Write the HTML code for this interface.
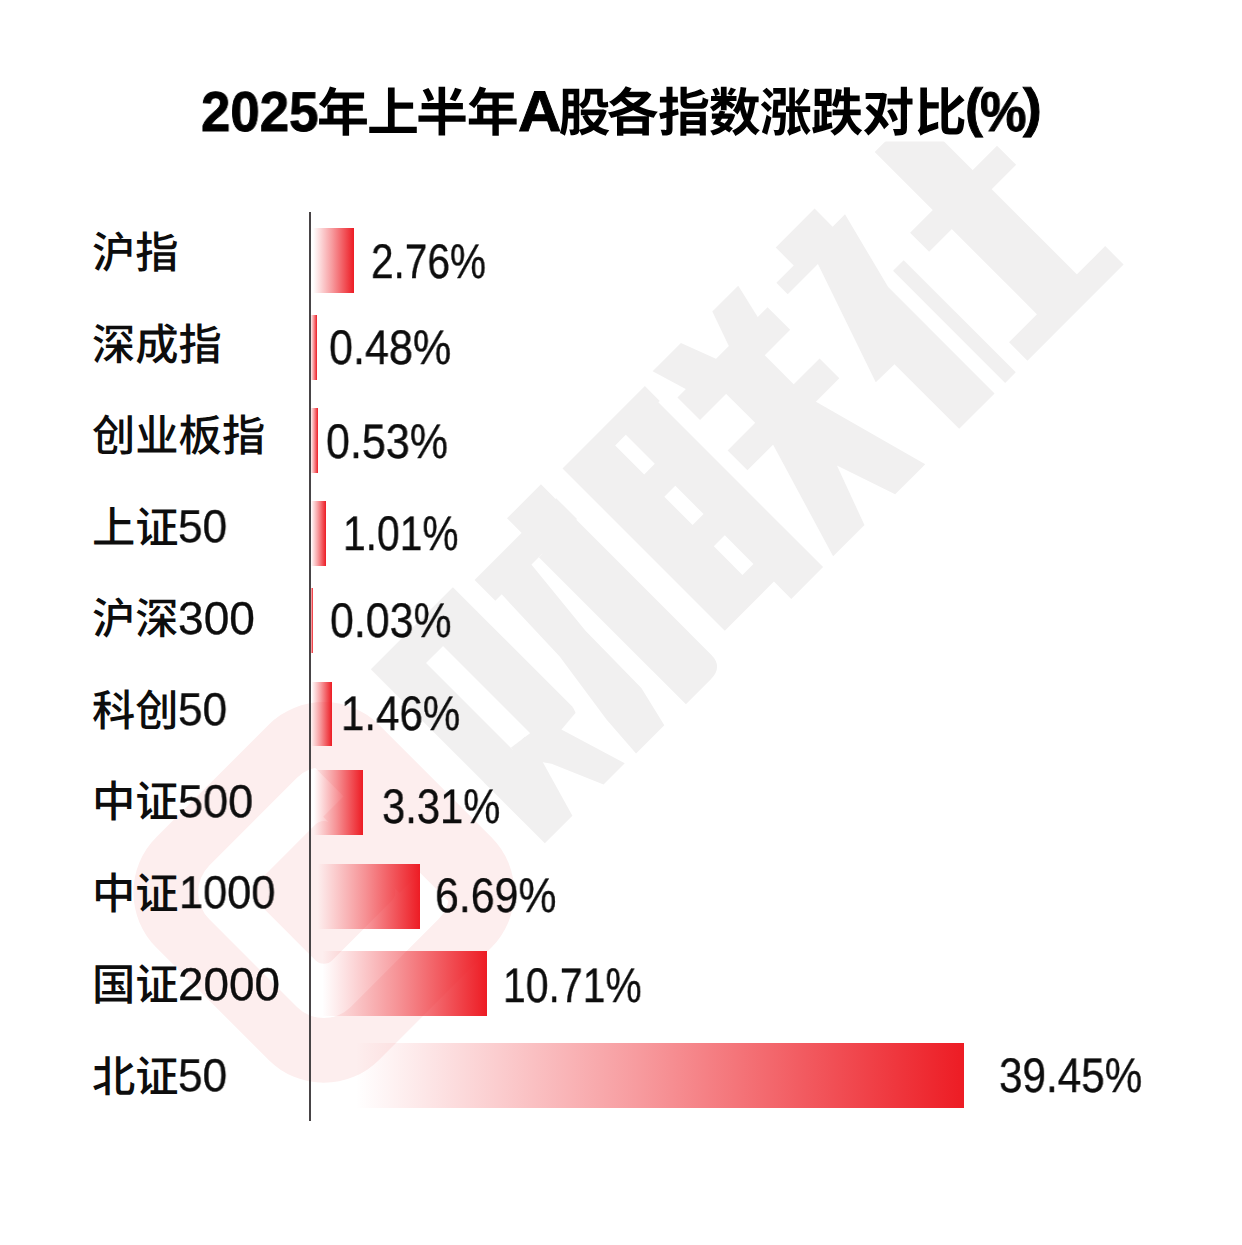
<!DOCTYPE html>
<html lang="zh"><head><meta charset="utf-8"><title>2025年上半年A股各指数涨跌对比(%)</title>
<style>
html,body{margin:0;padding:0;background:#fff}
body{width:1242px;height:1245px;position:relative;overflow:hidden;font-family:"Liberation Sans",sans-serif;color:#0d0d0d;font-kerning:none;text-rendering:geometricPrecision}
.cj{position:absolute;display:block;overflow:visible}
.cj text{font-family:"Liberation Sans","Noto Sans CJK SC",sans-serif}
.dg,.val,.tl{position:absolute;white-space:nowrap;line-height:1;transform-origin:0 0;will-change:transform}
.dg,.val{-webkit-text-stroke:0.35px #0d0d0d}
.tl{font-weight:bold;color:#000;-webkit-text-stroke:0.9px #000}
.bar{position:absolute;background:linear-gradient(90deg,rgba(237,28,36,0) 0%,rgba(237,28,36,0) 7%,rgba(237,28,36,.44) 50%,rgba(237,28,36,1) 100%)}
.axis{position:absolute;left:309.3px;top:212px;width:1.5px;height:908.5px;background:#484446}
</style></head><body>
<svg class="wm" width="1242" height="1245" viewBox="0 0 1242 1245" style="position:absolute;left:0;top:0" aria-hidden="true"><defs><clipPath id="wmclip"><rect x="0" y="141.5" width="1242" height="1104"/></clipPath></defs><g clip-path="url(#wmclip)"><g transform="matrix(0.70711,-0.70711,0.70711,0.70711,0,0)"><path fill="#fdeeee" d="M-481.5,702.5H-322.5A78,78 0 0 1 -244.5,780.5V939.5A78,78 0 0 1 -322.5,1017.5H-481.5A78,78 0 0 1 -559.5,939.5V780.5A78,78 0 0 1 -481.5,702.5Z"/><clipPath id="cclip"><path d="M-559.5,702.5H-320V806.0H-349.0V914.0H-320V1017.5H-559.5Z"/></clipPath><path fill="#fff" clip-path="url(#cclip)" d="M-464.0,760.0H-340.0A38,38 0 0 1 -302.0,798.0V922.0A38,38 0 0 1 -340.0,960.0H-464.0A38,38 0 0 1 -502.0,922.0V798.0A38,38 0 0 1 -464.0,760.0ZM-444.0,806.0A12,12 0 0 0 -456.0,818.0V902.0A12,12 0 0 0 -444.0,914.0H-360.0A12,12 0 0 0 -348.0,902.0V818.0A12,12 0 0 0 -360.0,806.0Z"/><g fill="#f1f0f0"><path fill-rule="evenodd" d="M-211,735.5H-95V770H-211Z"/><path fill-rule="evenodd" d="M-211,769H-167.5V902H-211Z"/><path fill-rule="evenodd" d="M-143.6,769H-95V905H-143.6Z"/><path fill-rule="evenodd" d="M-95,905L-97,911L-121,913L-143.6,900Z"/><path fill-rule="evenodd" d="M-211,895L-150,892L-150,905L-172,981.5L-211,981.5Z"/><path fill-rule="evenodd" d="M-167.5,890L-124,896L-98,981.5L-128,981.5L-150,930L-167.5,905Z"/><path fill-rule="evenodd" d="M-74.5,745.6H41V775H-74.5Z"/><path fill-rule="evenodd" d="M-8,725H40V965.5Q40,983.0 22,983.0H-13V775H-8Z"/><path fill-rule="evenodd" d="M-65.5,774L-23.4,774L-32,860L-33,940L-43,982.5L-83,982.5L-80,938L-68.5,860Z"/><path fill-rule="evenodd" d="M66.5,729L183,729L183,750L181,750L181,983.0L136,983.0L136,958.5L66.5,958.5ZM120,750H135V791H120ZM118.5,821H134V861H118.5ZM118.5,891H134V931.5H118.5Z"/><path fill-rule="evenodd" d="M199,724L239,724L253,761L210,761Z"/><path fill-rule="evenodd" d="M283.4,724L320,724L311.4,761L270.4,761Z"/><path fill-rule="evenodd" d="M198,760H325.5V792H198Z"/><path fill-rule="evenodd" d="M235,791H289.5V834H235Z"/><path fill-rule="evenodd" d="M196,833H326V861H196Z"/><path fill-rule="evenodd" d="M232.6,860L195.7,982.5L240,982.5L262.6,921L283.4,982.5L326,982.5L292.7,860Z"/><path fill-rule="evenodd" d="M373.5,723.5L428.5,723.5L428.5,749L446,749L425,831L425,981.5L375,981.5L375,890L349,889.5L391.7,765L349,765L349,749L373.5,749Z"/><path fill-rule="evenodd" d="M440,823H455V981.5H440Z"/><path fill-rule="evenodd" d="M511,726H567.5V956H511Z"/><path fill-rule="evenodd" d="M479,808H602V835H479Z"/><path fill-rule="evenodd" d="M471.5,955.5H607.5V981.5H471.5Z"/></g></g></g></svg>
<svg class="cj" style="left:315.42px;top:81.34px" width="653.64" height="57.54" fill="#000"><text x="2 52.05 100.98 151.7 243.47 291.73 342.88 393.87 444.84 495.88 547.32 599.64" y="49.69" font-size="52" font-weight="bold" fill="#000">年上半年股各指数涨跌对比</text></svg>
<span class="tl" style="left:200.57px;top:84px;font-size:56.2px;transform:scaleX(0.9398)">2025</span>
<span class="tl" style="left:518.10px;top:84px;font-size:57.4px;transform:scaleX(1.0465)">A</span>
<span class="tl" style="left:964.54px;top:82px;font-size:53.6px;transform:scaleX(0.9982)">(</span>
<span class="tl" style="left:979.90px;top:84px;font-size:56.1px;transform:scaleX(0.9318)">%</span>
<span class="tl" style="left:1022.74px;top:82px;font-size:53.6px;transform:scaleX(1.0577)">)</span>
<div class="axis"></div>
<svg class="cj" style="left:90.00px;top:226.12px" width="90.60" height="48.73" fill="#0d0d0d"><text x="2 45.3" y="42.08" font-size="43.3" font-weight="500" fill="#0d0d0d">沪指</text></svg>
<div class="bar" style="left:310px;top:228px;width:44.0px;height:65.0px"></div>
<span class="val" style="left:370.76px;top:238px;font-size:48.6px;transform:scaleX(0.8352)">2.76%</span>
<svg class="cj" style="left:90.00px;top:317.62px" width="133.90" height="48.73" fill="#0d0d0d"><text x="2 45.3 88.6" y="42.08" font-size="43.3" font-weight="500" fill="#0d0d0d">深成指</text></svg>
<div class="bar" style="left:310px;top:315.2px;width:7.3px;height:64.6px"></div>
<span class="val" style="left:328.91px;top:324px;font-size:48.6px;transform:scaleX(0.8877)">0.48%</span>
<svg class="cj" style="left:90.00px;top:409.12px" width="177.20" height="48.73" fill="#0d0d0d"><text x="2 45.3 88.6 131.9" y="42.08" font-size="43.3" font-weight="500" fill="#0d0d0d">创业板指</text></svg>
<div class="bar" style="left:310px;top:407.8px;width:7.7px;height:65.3px"></div>
<span class="val" style="left:325.62px;top:418px;font-size:48.6px;transform:scaleX(0.8862)">0.53%</span>
<svg class="cj" style="left:90.00px;top:500.62px" width="90.60" height="48.73" fill="#0d0d0d"><text x="2 45.3" y="42.08" font-size="43.3" font-weight="500" fill="#0d0d0d">上证</text></svg>
<span class="dg" style="left:178.23px;top:504px;font-size:45.8px;transform:scaleX(0.9636)">50</span>
<div class="bar" style="left:310px;top:501.1px;width:16.4px;height:64.7px"></div>
<span class="val" style="left:342.59px;top:510px;font-size:48.6px;transform:scaleX(0.8393)">1.01%</span>
<svg class="cj" style="left:90.00px;top:592.12px" width="90.60" height="48.73" fill="#0d0d0d"><text x="2 45.3" y="42.09" font-size="43.3" font-weight="500" fill="#0d0d0d">沪深</text></svg>
<span class="dg" style="left:178.04px;top:596px;font-size:45.8px;transform:scaleX(1.0071)">300</span>
<div class="bar" style="left:310px;top:588.4px;width:2.5px;height:64.6px"></div>
<span class="val" style="left:329.52px;top:597px;font-size:48.6px;transform:scaleX(0.8832)">0.03%</span>
<svg class="cj" style="left:90.00px;top:683.62px" width="90.60" height="48.73" fill="#0d0d0d"><text x="2 45.3" y="42.09" font-size="43.3" font-weight="500" fill="#0d0d0d">科创</text></svg>
<span class="dg" style="left:178.23px;top:687px;font-size:45.8px;transform:scaleX(0.9636)">50</span>
<div class="bar" style="left:310px;top:681.5px;width:21.6px;height:64.7px"></div>
<span class="val" style="left:341.49px;top:690px;font-size:48.6px;transform:scaleX(0.8658)">1.46%</span>
<svg class="cj" style="left:90.00px;top:775.12px" width="90.60" height="48.73" fill="#0d0d0d"><text x="2 45.3" y="42.09" font-size="43.3" font-weight="500" fill="#0d0d0d">中证</text></svg>
<span class="dg" style="left:178.20px;top:779px;font-size:45.8px;transform:scaleX(0.9836)">500</span>
<div class="bar" style="left:310px;top:770.3px;width:53.1px;height:65.1px"></div>
<span class="val" style="left:382.41px;top:783px;font-size:48.6px;transform:scaleX(0.8590)">3.31%</span>
<svg class="cj" style="left:90.00px;top:866.62px" width="90.60" height="48.73" fill="#0d0d0d"><text x="2 45.3" y="42.09" font-size="43.3" font-weight="500" fill="#0d0d0d">中证</text></svg>
<span class="dg" style="left:178.70px;top:870px;font-size:45.8px;transform:scaleX(0.9450)">1000</span>
<div class="bar" style="left:310px;top:864.0px;width:109.5px;height:64.7px"></div>
<span class="val" style="left:435.22px;top:872px;font-size:48.6px;transform:scaleX(0.8825)">6.69%</span>
<svg class="cj" style="left:90.00px;top:958.12px" width="90.60" height="48.73" fill="#0d0d0d"><text x="2 45.3" y="42.09" font-size="43.3" font-weight="500" fill="#0d0d0d">国证</text></svg>
<span class="dg" style="left:178.20px;top:962px;font-size:45.8px;transform:scaleX(1.0001)">2000</span>
<div class="bar" style="left:310px;top:950.9px;width:176.6px;height:64.8px"></div>
<span class="val" style="left:502.88px;top:962px;font-size:48.6px;transform:scaleX(0.8425)">10.71%</span>
<svg class="cj" style="left:90.00px;top:1049.62px" width="90.60" height="48.73" fill="#0d0d0d"><text x="2 45.3" y="42.09" font-size="43.3" font-weight="500" fill="#0d0d0d">北证</text></svg>
<span class="dg" style="left:178.23px;top:1053px;font-size:45.8px;transform:scaleX(0.9636)">50</span>
<div class="bar" style="left:310px;top:1043.2px;width:654.0px;height:64.8px"></div>
<span class="val" style="left:999.39px;top:1052px;font-size:48.6px;transform:scaleX(0.8695)">39.45%</span>
</body></html>
